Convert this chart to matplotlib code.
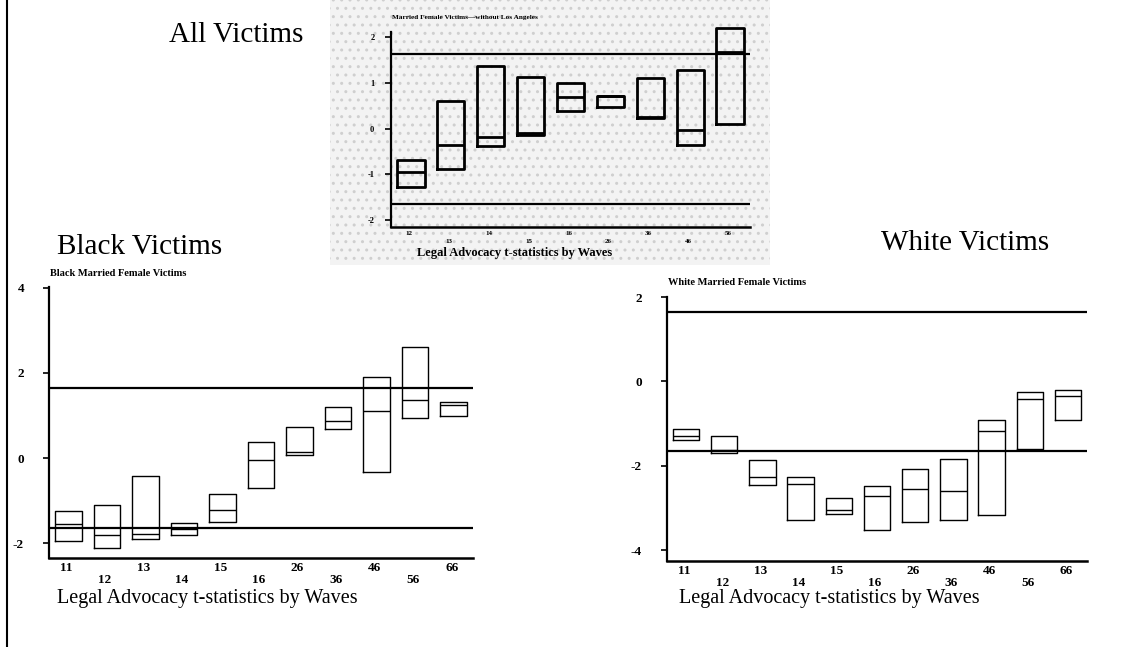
import matplotlib
matplotlib.use("Agg")
import matplotlib.pyplot as plt
from matplotlib.patches import Rectangle
from matplotlib.lines import Line2D

# ---------------- data ----------------
all_waves = ["12", "13", "14", "15", "16", "26", "36", "46", "56"]
all_low = [-1.28, -0.88, -0.38, -0.14, 0.38, 0.47, 0.24, -0.36, 0.11]
all_med = [-0.95, -0.35, -0.18, -0.10, 0.69, 0.71, 0.25, -0.04, 1.68]
all_high = [-0.69, 0.60, 1.37, 1.13, 0.99, 0.72, 1.11, 1.28, 2.21]

waves = ["11", "12", "13", "14", "15", "16", "26", "36", "46", "56", "66"]
black_low = [-1.95, -2.11, -1.90, -1.80, -1.50, -0.70, 0.06, 0.68, -0.34, 0.94, 0.98]
black_med = [-1.55, -1.82, -1.78, -1.68, -1.23, -0.05, 0.14, 0.88, 1.11, 1.36, 1.25]
black_high = [-1.24, -1.11, -0.42, -1.53, -0.84, 0.37, 0.72, 1.19, 1.91, 2.62, 1.32]

white_low = [-1.38, -1.69, -2.46, -3.27, -3.13, -3.52, -3.33, -3.28, -3.17, -1.60, -0.92]
white_med = [-1.29, -1.63, -2.26, -2.43, -3.05, -2.71, -2.55, -2.59, -1.18, -0.41, -0.35]
white_high = [-1.12, -1.28, -1.87, -2.26, -2.76, -2.47, -2.07, -1.83, -0.91, -0.24, -0.19]

crit = 1.645

# ---------------- figure ----------------
W, H = 1129, 647
fig = plt.figure(figsize=(W / 100, H / 100), dpi=100)
fig.patch.set_facecolor("white")
serif = ["Liberation Serif", "DejaVu Serif"]


def px_axes(l, t, r, b):
    return fig.add_axes([l / W, 1 - b / H, (r - l) / W, (b - t) / H])


def draw_boxes(ax, labels, lo, med, hi, lw, width, tick_fs, ytick_fs, yticks, ylim, row_gap):
    stats = []
    for lab, a, m, b in zip(labels, lo, med, hi):
        stats.append(dict(label=lab, q1=a, med=m, q3=b, whislo=a, whishi=b, fliers=[]))
    pos = list(range(1, len(labels) + 1))
    parts = ax.bxp(stats, positions=pos, widths=width, showcaps=False, showfliers=False,
                   boxprops=dict(color="black", linewidth=lw),
                   medianprops=dict(color="black", linewidth=lw),
                   whiskerprops=dict(linewidth=0))
    for key in ("boxes", "medians"):
        for art in parts[key]:
            art.set_clip_on(False)
    ax.axhline(crit, color="black", linewidth=1.6)
    ax.axhline(-crit, color="black", linewidth=1.6)
    ax.set_xlim(0.5, len(labels) + 0.5)
    ax.set_ylim(*ylim)
    ax.set_yticks(yticks)
    ax.set_yticklabels([str(v) for v in yticks], fontfamily=serif,
                       fontweight="bold", fontsize=ytick_fs)
    ax.set_xticks(pos)
    ax.set_xticklabels([])
    for i, lab in enumerate(labels):
        off = 0 if i % 2 == 0 else row_gap
        ax.annotate(lab, xy=(pos[i], 0), xycoords=("data", "axes fraction"),
                    xytext=(-2, -4 - off), textcoords="offset pixels",
                    ha="center", va="top", fontfamily=serif,
                    fontweight="bold", fontsize=tick_fs)
    ax.tick_params(axis="x", length=0)
    ax.tick_params(axis="y", direction="out", length=4, width=1.2, pad=14)
    for s in ["top", "right"]:
        ax.spines[s].set_visible(False)
    ax.spines["left"].set_linewidth(1.6)
    ax.spines["bottom"].set_linewidth(1.8)
    ax.patch.set_alpha(0)


# page border at the left
fig.add_artist(Line2D([7 / W, 7 / W], [0, 1], color="black", linewidth=1.5))

# speckled background of the scanned top chart
fig.add_artist(Rectangle((330 / W, 1 - 265 / H), 440 / W, 265 / H,
                         transform=fig.transFigure, facecolor="#f3f3f3",
                         edgecolor="#cfcfcf", hatch="..", linewidth=0, zorder=0))

# ---------- top: all victims ----------
ax0 = px_axes(391, 32, 750, 227)
draw_boxes(ax0, all_waves, all_low, all_med, all_high, lw=2.0, width=0.68,
           tick_fs=5, ytick_fs=6, yticks=[2, 1, 0, -1, -2], ylim=(-2.16, 2.12), row_gap=8)
ax0.tick_params(axis="y", pad=8)
fig.text(392 / W, 1 - 18 / H, "Married Female Victims\u2014without Los Angeles",
         fontfamily=serif, fontweight="bold", fontsize=5.2, ha="left", va="center")
fig.text(515 / W, 1 - 253 / H, "Legal Advocacy t-statistics by Waves",
         fontfamily=serif, fontweight="bold", fontsize=9, ha="center", va="center")
fig.text(236 / W, 1 - 35 / H, "All Victims", fontfamily=serif, fontsize=21,
         ha="center", va="center")

# ---------- bottom left: black victims ----------
ax1 = px_axes(49, 287, 473, 558)
draw_boxes(ax1, waves, black_low, black_med, black_high, lw=1.0, width=0.69,
           tick_fs=9.5, ytick_fs=9.5, yticks=[4, 2, 0, -2], ylim=(-2.35, 4.02), row_gap=12)
fig.text(140 / W, 1 - 247 / H, "Black Victims", fontfamily=serif, fontsize=21,
         ha="center", va="center")
fig.text(50 / W, 1 - 273 / H, "Black Married Female Victims", fontfamily=serif,
         fontweight="bold", fontsize=7.5, ha="left", va="center")
fig.text(207 / W, 1 - 598 / H, "Legal Advocacy t-statistics by Waves",
         fontfamily=serif, fontsize=14.5, ha="center", va="center")

# ---------- bottom right: white victims ----------
ax2 = px_axes(667, 297, 1087, 561)
draw_boxes(ax2, waves, white_low, white_med, white_high, lw=1.0, width=0.69,
           tick_fs=9.5, ytick_fs=9.5, yticks=[2, 0, -2, -4], ylim=(-4.25, 2.0), row_gap=12)
fig.text(965 / W, 1 - 243 / H, "White Victims", fontfamily=serif, fontsize=21,
         ha="center", va="center")
fig.text(668 / W, 1 - 283 / H, "White Married Female Victims", fontfamily=serif,
         fontweight="bold", fontsize=7.5, ha="left", va="center")
fig.text(829 / W, 1 - 598 / H, "Legal Advocacy t-statistics by Waves",
         fontfamily=serif, fontsize=14.5, ha="center", va="center")

fig.savefig("out.png", dpi=100)
